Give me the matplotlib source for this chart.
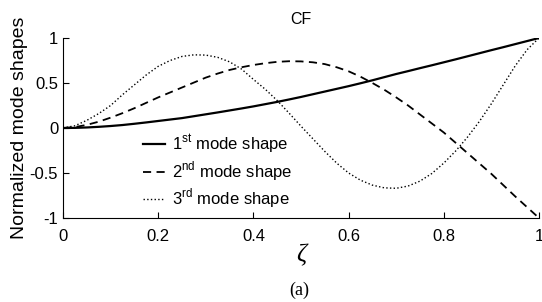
import numpy as np
import matplotlib.pyplot as plt

plt.rcParams['font.family'] = ['Liberation Sans', 'DejaVu Sans']
plt.rcParams['mathtext.fontset'] = 'custom'
plt.rcParams['mathtext.rm'] = 'Liberation Sans'

# --- data ---
zeta = [0.0, 0.025, 0.05, 0.075, 0.1, 0.125, 0.15, 0.175, 0.2, 0.225,
        0.25, 0.275, 0.3, 0.325, 0.35, 0.375, 0.4, 0.425, 0.45, 0.475,
        0.5, 0.525, 0.55, 0.575, 0.6, 0.625, 0.65, 0.675, 0.7, 0.725,
        0.75, 0.775, 0.8, 0.825, 0.85, 0.875, 0.9, 0.925, 0.95, 0.975, 1.0]
mode1 = [0.0, 0.0015, 0.006, 0.013, 0.022, 0.033, 0.047, 0.062, 0.078, 0.094,
         0.11, 0.131, 0.152, 0.173, 0.195, 0.217, 0.24, 0.265, 0.29, 0.317,
         0.345, 0.375, 0.405, 0.435, 0.465, 0.497, 0.53, 0.565, 0.6, 0.632,
         0.665, 0.697, 0.73, 0.763, 0.797, 0.831, 0.865, 0.898, 0.932, 0.966, 1.0]
mode2 = [0.0, 0.01, 0.035, 0.07, 0.115, 0.165, 0.22, 0.28, 0.34, 0.395,
         0.45, 0.505, 0.56, 0.605, 0.645, 0.675, 0.70, 0.72, 0.735, 0.742,
         0.74, 0.73, 0.71, 0.675, 0.63, 0.57, 0.50, 0.425, 0.34, 0.25,
         0.15, 0.05, -0.05, -0.165, -0.28, -0.395, -0.51, -0.635, -0.76, -0.88, -1.0]
mode3 = [0.0, 0.025, 0.085, 0.16, 0.25, 0.37, 0.48, 0.59, 0.685, 0.75,
         0.795, 0.813, 0.81, 0.785, 0.735, 0.655, 0.54, 0.43, 0.305, 0.165,
         0.02, -0.12, -0.26, -0.39, -0.50, -0.58, -0.635, -0.665, -0.67, -0.645,
         -0.59, -0.505, -0.39, -0.255, -0.10, 0.075, 0.27, 0.48, 0.69, 0.87, 1.0]

labels = ['1$^{\\mathrm{st}}$ mode shape',
          '2$^{\\mathrm{nd}}$ mode shape',
          '3$^{\\mathrm{rd}}$ mode shape']
xticks = [0, 0.2, 0.4, 0.6, 0.8, 1]
xticklabels = ['0', '0.2', '0.4', '0.6', '0.8', '1']
yticks = [-1, -0.5, 0, 0.5, 1]
yticklabels = ['-1', '-0.5', '0', '0.5', '1']

fig = plt.figure(figsize=(5.42, 3.02), dpi=100)
ax = fig.add_axes([63 / 542, 1 - 218 / 302, 476 / 542, 180 / 302])

ax.plot(zeta, mode1, color='black', lw=1.6, label=labels[0])
ax.plot(zeta, mode2, color='black', lw=1.3, dashes=(4.5, 3), label=labels[1])
ax.plot(zeta, mode3, color='black', lw=1.0, linestyle=':', label=labels[2])

ax.set_xlim(0, 1)
ax.set_ylim(-1, 1)
ax.set_xticks(xticks)
ax.set_xticklabels(xticklabels)
ax.set_yticks(yticks)
ax.set_yticklabels(yticklabels)
ax.tick_params(direction='in', length=4, width=0.8, labelsize=12)
ax.tick_params(axis='x', pad=8)
ax.tick_params(axis='y', pad=3.5)
ax.spines['top'].set_visible(False)
ax.spines['right'].set_visible(False)

ax.set_title('CF', fontsize=11.5, pad=10)
ax.set_ylabel('Normalized mode shapes', fontsize=14, labelpad=1)
ax.set_xlabel('ζ', fontsize=18, family='Liberation Serif', style='italic', labelpad=0)
fig.text(0.553, 0.025, '(a)', fontsize=13, family='Liberation Serif', ha='center')

ax.legend(loc='upper left', bbox_to_anchor=(0.168, 0.475), frameon=False,
          fontsize=12, handlelength=1.35, handletextpad=0.37, labelspacing=0.22,
          borderpad=0, borderaxespad=0)

fig.savefig('out.png', dpi=100)
